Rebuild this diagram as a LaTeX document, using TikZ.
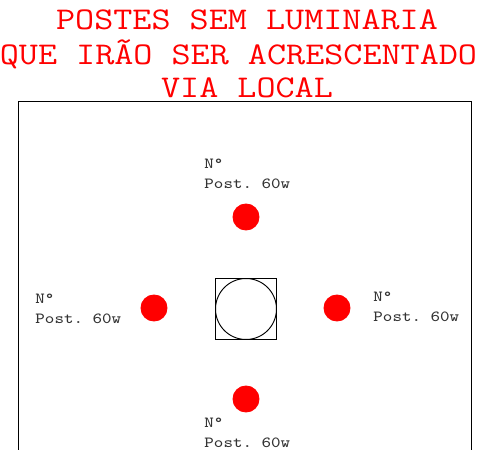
\documentclass[tikz,border=0pt]{standalone}
\usepackage{fontspec}
\setmonofont[FakeStretch=1.172]{Latin Modern Mono}
\tikzset{
    titulo/.style={font=\fontsize{18}{19}\selectfont\ttfamily, text=red, inner sep=0pt},
    rotulo/.style={font=\fontsize{8.8}{11}\selectfont\ttfamily, text=black!80, align=left, inner sep=0pt, anchor=north west},
    poste/.style={circle, fill=red, draw=red, minimum size=0.52cm, inner sep=0pt},
}
\begin{document}
\begin{tikzpicture}[x=0.02cm, y=-0.02cm, line width=0.55pt]
    \useasboundingbox (0,0) rectangle (478,450);
    \node[titulo] (linha1) at (247,20) {POSTES SEM LUMINARIA};
    \node[titulo] (linha2) at (248,54) {QUE IRÃO SER ACRESCENTADOS};
    \node[titulo] (linha3) at (247,88) {VIA LOCAL};
    \draw (18,470) -- (18,101) -- (471,101) -- (471,470);
    \node[draw, minimum size=1.22cm, inner sep=0pt] (quadra) at (246,309) {};
    \node[draw, circle, minimum size=1.22cm, inner sep=0pt] (rotula) at (246,309) {};
    \node[poste] (posteN) at (246,217) {};
    \node[poste] (posteO) at (154,308) {};
    \node[poste] (posteL) at (337,308) {};
    \node[poste] (posteS) at (246,399) {};
    \node[rotulo] (rotN) at (204,159) {N°\\Post. 60w};
    \node[rotulo] (rotO) at (35,294) {N°\\Post. 60w};
    \node[rotulo] (rotL) at (373,292) {N°\\Post. 60w};
    \node[rotulo] (rotS) at (204,418) {N°\\Post. 60w};
\end{tikzpicture}
\end{document}
